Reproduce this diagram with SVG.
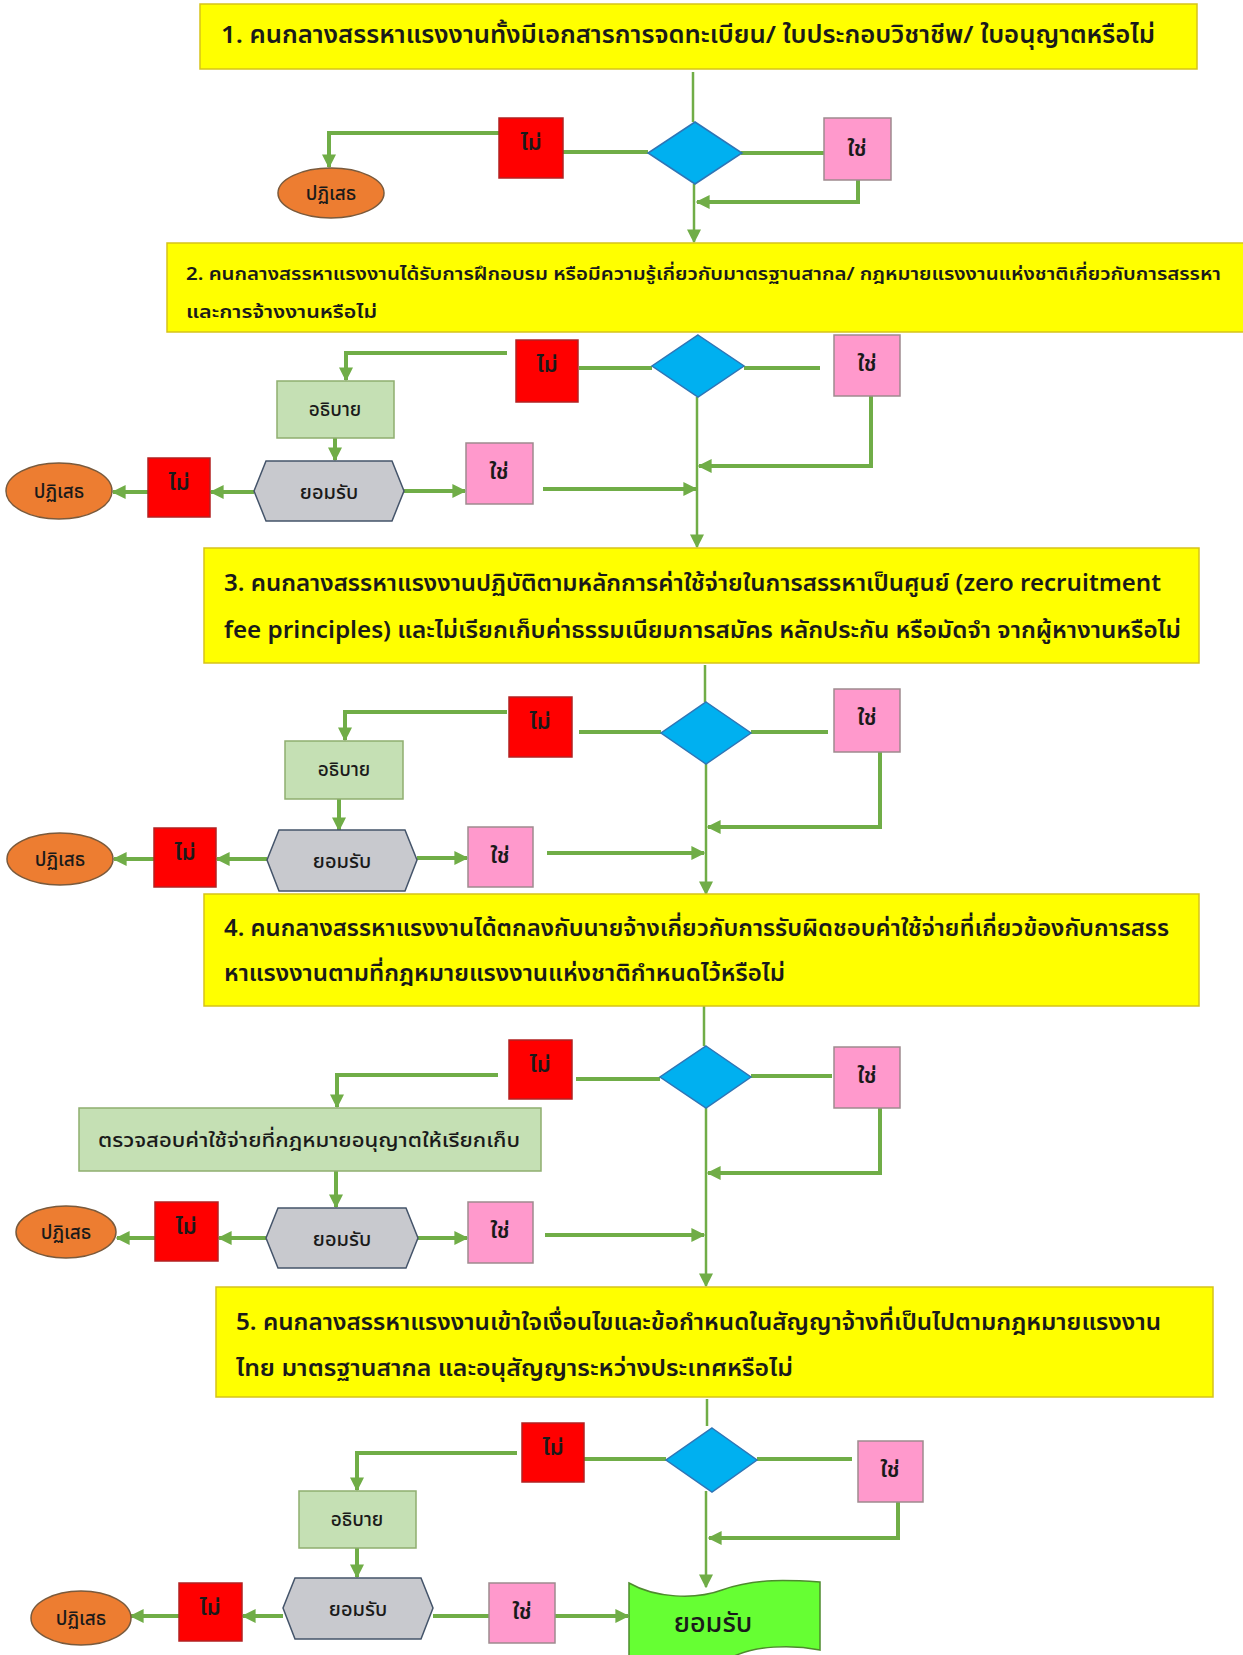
<svg xmlns="http://www.w3.org/2000/svg" width="1243" height="1655" viewBox="0 0 1243 1655">
  <defs>
    <marker id="arr" viewBox="0 0 10 10" refX="9" refY="5" markerUnits="userSpaceOnUse" markerWidth="14" markerHeight="14" orient="auto">
      <path d="M0,0 L10,5 L0,10 Z" fill="#70AD47"/>
    </marker>
    <style>
      .q { fill: #FFFF00; stroke: #D6C31A; stroke-width: 1.5; }
      .qt { font-family: 'Noto Sans Thai', 'Noto Sans', 'DejaVu Sans', sans-serif; fill: #1a1a1a; font-weight: 600; }
      .no { fill: #FF0000; stroke: #B22222; stroke-width: 1.5; }
      .yes { fill: #FF99CC; stroke: #9E8A8E; stroke-width: 1.5; }
      .dec { fill: #00B0F0; stroke: #2E75B6; stroke-width: 1.5; }
      .exp { fill: #C5E0B4; stroke: #8FAE6F; stroke-width: 1.5; }
      .acc { fill: #C8C9CE; stroke: #44546A; stroke-width: 1.5; }
      .rej { fill: #ED7D31; stroke: #7A5A3C; stroke-width: 1.5; }
      .fin { fill: #66FF33; stroke: #4E8A2E; stroke-width: 1.5; }
      .lbl { font-family: 'Noto Sans Thai', 'Tahoma', 'DejaVu Sans', sans-serif; fill: #1a1a1a; text-anchor: middle; font-weight: 500; }
      .yn { font-weight: 600; }
      .c { fill: none; stroke: #70AD47; stroke-width: 4; }
      .v { fill: none; stroke: #70AD47; stroke-width: 2.5; }
      .a { marker-end: url(#arr); }
    </style>
  </defs>
  <rect width="1243" height="1655" fill="#FFFFFF"/>

  <!-- connectors -->
  <g id="connectors">
    <!-- step 1 -->
    <path class="v" d="M693,72 V122"/>
    <path class="c" d="M563,152 H648"/>
    <path class="c" d="M741,153 H824"/>
    <path class="c a" d="M501,133 H329 V167"/>
    <path class="c a" d="M858,180 V202 H697"/>
    <path class="v a" d="M694,184 V242"/>
    <!-- step 2 -->
    <path class="c" d="M579,368 H652"/>
    <path class="c" d="M744,368 H820"/>
    <path class="c a" d="M507,353 H346 V380"/>
    <path class="c a" d="M335,438 V460"/>
    <path class="c a" d="M254,492 H211"/>
    <path class="c a" d="M148,492 H113"/>
    <path class="c a" d="M404,491 H465"/>
    <path class="c a" d="M543,489 H696"/>
    <path class="c a" d="M871,396 V466 H699"/>
    <path class="v a" d="M697,397 V547"/>
    <!-- step 3 -->
    <path class="v" d="M705,665 V702"/>
    <path class="c" d="M579,732 H661"/>
    <path class="c" d="M751,732 H828"/>
    <path class="c a" d="M507,712 H345 V740"/>
    <path class="c a" d="M339,799 V830"/>
    <path class="c a" d="M267,859 H217"/>
    <path class="c a" d="M154,859 H114"/>
    <path class="c a" d="M417,858 H467"/>
    <path class="c a" d="M547,853 H704"/>
    <path class="c a" d="M880,752 V827 H708"/>
    <path class="v a" d="M706,764 V894"/>
    <!-- step 4 -->
    <path class="v" d="M704,1006 V1046"/>
    <path class="c" d="M576,1079 H660"/>
    <path class="c" d="M751,1076 H832"/>
    <path class="c a" d="M498,1075 H337 V1107"/>
    <path class="c a" d="M336,1171 V1207"/>
    <path class="c a" d="M266,1238 H219"/>
    <path class="c a" d="M155,1238 H117"/>
    <path class="c a" d="M418,1238 H467"/>
    <path class="c a" d="M545,1235 H704"/>
    <path class="c a" d="M880,1108 V1173 H708"/>
    <path class="v a" d="M706,1108 V1286"/>
    <!-- step 5 -->
    <path class="v" d="M707,1399 V1426"/>
    <path class="c" d="M584,1459 H666"/>
    <path class="c" d="M757,1459 H852"/>
    <path class="c a" d="M517,1453 H357 V1490"/>
    <path class="c a" d="M357,1548 V1577"/>
    <path class="c a" d="M283,1616 H243"/>
    <path class="c a" d="M179,1616 H131"/>
    <path class="c" d="M433,1616 H489"/>
    <path class="c a" d="M555,1616 H628"/>
    <path class="c a" d="M898,1502 V1538 H709"/>
    <path class="v a" d="M706,1491 V1587"/>
  </g>

  <!-- step 1 -->
  <g id="q1">
    <rect class="q" x="200" y="4" width="997" height="65"/>
    <text class="qt" x="221" y="43" font-size="24" textLength="934" lengthAdjust="spacingAndGlyphs">1. คนกลางสรรหาแรงงานทั้งมีเอกสารการจดทะเบียน/  ใบประกอบวิชาชีพ/ ใบอนุญาตหรือไม่</text>
  </g>
  <g id="d1"><polygon class="dec" points="695,122 742,153 695,184 648,153"/></g>
  <g id="no1"><rect class="no" x="499" y="118" width="64" height="60"/><text class="lbl yn" x="531" y="150" font-size="22">ไม่</text></g>
  <g id="yes1"><rect class="yes" x="824" y="118" width="67" height="62"/><text class="lbl yn" x="857" y="156" font-size="22">ใช่</text></g>
  <g id="rej1"><ellipse class="rej" cx="331" cy="193" rx="53" ry="25"/><text class="lbl" x="331" y="200" font-size="19">ปฏิเสธ</text></g>

  <!-- step 2 -->
  <g id="q2">
    <rect class="q" x="167" y="243" width="1085" height="89"/>
    <text class="qt" x="186" y="280" font-size="18" textLength="1035" lengthAdjust="spacingAndGlyphs">2. คนกลางสรรหาแรงงานได้รับการฝึกอบรม หรือมีความรู้เกี่ยวกับมาตรฐานสากล/ กฎหมายแรงงานแห่งชาติเกี่ยวกับการสรรหา</text>
    <text class="qt" x="186" y="318" font-size="18" textLength="191" lengthAdjust="spacingAndGlyphs">และการจ้างงานหรือไม่</text>
  </g>
  <g id="d2"><polygon class="dec" points="698,335 744,366 698,397 652,366"/></g>
  <g id="no2"><rect class="no" x="516" y="340" width="62" height="62"/><text class="lbl yn" x="547" y="372" font-size="22">ไม่</text></g>
  <g id="yes2"><rect class="yes" x="834" y="335" width="66" height="61"/><text class="lbl yn" x="867" y="371" font-size="22">ใช่</text></g>
  <g id="exp2"><rect class="exp" x="277" y="381" width="117" height="57"/><text class="lbl" x="335" y="416" font-size="19">อธิบาย</text></g>
  <g id="acc2"><polygon class="acc" points="254,491 266,461 392,461 404,491 392,521 266,521"/><text class="lbl" x="329" y="499" font-size="20">ยอมรับ</text></g>
  <g id="no2b"><rect class="no" x="148" y="458" width="62" height="59"/><text class="lbl yn" x="179" y="490" font-size="22">ไม่</text></g>
  <g id="rej2"><ellipse class="rej" cx="59" cy="491" rx="53" ry="28"/><text class="lbl" x="59" y="498" font-size="19">ปฏิเสธ</text></g>
  <g id="yes2b"><rect class="yes" x="466" y="443" width="67" height="61"/><text class="lbl yn" x="499" y="479" font-size="22">ใช่</text></g>

  <!-- step 3 -->
  <g id="q3">
    <rect class="q" x="204" y="548" width="995" height="115"/>
    <text class="qt" x="224" y="591" font-size="23" textLength="937" lengthAdjust="spacingAndGlyphs">3. คนกลางสรรหาแรงงานปฏิบัติตามหลักการค่าใช้จ่ายในการสรรหาเป็นศูนย์ (zero recruitment</text>
    <text class="qt" x="224" y="638" font-size="23" textLength="957" lengthAdjust="spacingAndGlyphs">fee principles) และไม่เรียกเก็บค่าธรรมเนียมการสมัคร หลักประกัน หรือมัดจำ จากผู้หางานหรือไม่</text>
  </g>
  <g id="d3"><polygon class="dec" points="706,702 751,733 706,764 661,733"/></g>
  <g id="no3"><rect class="no" x="509" y="697" width="63" height="60"/><text class="lbl yn" x="540" y="729" font-size="22">ไม่</text></g>
  <g id="yes3"><rect class="yes" x="834" y="689" width="66" height="63"/><text class="lbl yn" x="867" y="725" font-size="22">ใช่</text></g>
  <g id="exp3"><rect class="exp" x="285" y="741" width="118" height="58"/><text class="lbl" x="344" y="776" font-size="19">อธิบาย</text></g>
  <g id="acc3"><polygon class="acc" points="267,860 279,830 405,830 417,860 405,891 279,891"/><text class="lbl" x="342" y="868" font-size="20">ยอมรับ</text></g>
  <g id="no3b"><rect class="no" x="154" y="828" width="62" height="59"/><text class="lbl yn" x="185" y="860" font-size="22">ไม่</text></g>
  <g id="rej3"><ellipse class="rej" cx="60" cy="859" rx="53" ry="26"/><text class="lbl" x="60" y="866" font-size="19">ปฏิเสธ</text></g>
  <g id="yes3b"><rect class="yes" x="468" y="827" width="65" height="60"/><text class="lbl yn" x="500" y="863" font-size="22">ใช่</text></g>

  <!-- step 4 -->
  <g id="q4">
    <rect class="q" x="204" y="894" width="995" height="112"/>
    <text class="qt" x="224" y="936" font-size="23" textLength="945" lengthAdjust="spacingAndGlyphs">4. คนกลางสรรหาแรงงานได้ตกลงกับนายจ้างเกี่ยวกับการรับผิดชอบค่าใช้จ่ายที่เกี่ยวข้องกับการสรร</text>
    <text class="qt" x="224" y="981" font-size="23" textLength="561" lengthAdjust="spacingAndGlyphs">หาแรงงานตามที่กฎหมายแรงงานแห่งชาติกำหนดไว้หรือไม่</text>
  </g>
  <g id="d4"><polygon class="dec" points="706,1046 751,1077 706,1108 660,1077"/></g>
  <g id="no4"><rect class="no" x="509" y="1040" width="63" height="59"/><text class="lbl yn" x="540" y="1072" font-size="22">ไม่</text></g>
  <g id="yes4"><rect class="yes" x="834" y="1047" width="66" height="61"/><text class="lbl yn" x="867" y="1083" font-size="22">ใช่</text></g>
  <g id="chk4"><rect class="exp" x="79" y="1108" width="462" height="63"/><text class="lbl" x="309" y="1147" font-size="20" textLength="422" lengthAdjust="spacingAndGlyphs">ตรวจสอบค่าใช้จ่ายที่กฎหมายอนุญาตให้เรียกเก็บ</text></g>
  <g id="acc4"><polygon class="acc" points="266,1238 278,1208 406,1208 418,1238 406,1268 278,1268"/><text class="lbl" x="342" y="1246" font-size="20">ยอมรับ</text></g>
  <g id="no4b"><rect class="no" x="155" y="1202" width="63" height="59"/><text class="lbl yn" x="186" y="1234" font-size="22">ไม่</text></g>
  <g id="rej4"><ellipse class="rej" cx="66" cy="1232" rx="50" ry="26"/><text class="lbl" x="66" y="1239" font-size="19">ปฏิเสธ</text></g>
  <g id="yes4b"><rect class="yes" x="468" y="1202" width="65" height="61"/><text class="lbl yn" x="500" y="1238" font-size="22">ใช่</text></g>

  <!-- step 5 -->
  <g id="q5">
    <rect class="q" x="216" y="1287" width="997" height="110"/>
    <text class="qt" x="236" y="1330" font-size="23" textLength="925" lengthAdjust="spacingAndGlyphs">5. คนกลางสรรหาแรงงานเข้าใจเงื่อนไขและข้อกำหนดในสัญญาจ้างที่เป็นไปตามกฎหมายแรงงาน</text>
    <text class="qt" x="236" y="1376" font-size="23" textLength="557" lengthAdjust="spacingAndGlyphs">ไทย มาตรฐานสากล และอนุสัญญาระหว่างประเทศหรือไม่</text>
  </g>
  <g id="d5"><polygon class="dec" points="712,1428 757,1460 712,1492 666,1460"/></g>
  <g id="no5"><rect class="no" x="522" y="1423" width="62" height="59"/><text class="lbl yn" x="553" y="1455" font-size="22">ไม่</text></g>
  <g id="yes5"><rect class="yes" x="858" y="1441" width="65" height="61"/><text class="lbl yn" x="890" y="1477" font-size="22">ใช่</text></g>
  <g id="exp5"><rect class="exp" x="299" y="1491" width="117" height="57"/><text class="lbl" x="357" y="1526" font-size="19">อธิบาย</text></g>
  <g id="acc5"><polygon class="acc" points="283,1608 295,1578 421,1578 433,1608 421,1639 295,1639"/><text class="lbl" x="358" y="1616" font-size="20">ยอมรับ</text></g>
  <g id="no5b"><rect class="no" x="179" y="1583" width="63" height="58"/><text class="lbl yn" x="210" y="1615" font-size="22">ไม่</text></g>
  <g id="rej5"><ellipse class="rej" cx="81" cy="1618" rx="50" ry="27"/><text class="lbl" x="81" y="1625" font-size="19">ปฏิเสธ</text></g>
  <g id="yes5b"><rect class="yes" x="489" y="1583" width="66" height="60"/><text class="lbl yn" x="522" y="1619" font-size="22">ใช่</text></g>
  <g id="final">
    <path class="fin" d="M629,1583 C655,1598 695,1600 722,1590 C755,1578 790,1580 820,1582 L820,1650 C790,1644 755,1646 732,1657 L629,1657 Z"/>
    <text class="lbl" x="713" y="1632" font-size="27" font-weight="bold" fill="#142a0c">ยอมรับ</text>
  </g>
</svg>
